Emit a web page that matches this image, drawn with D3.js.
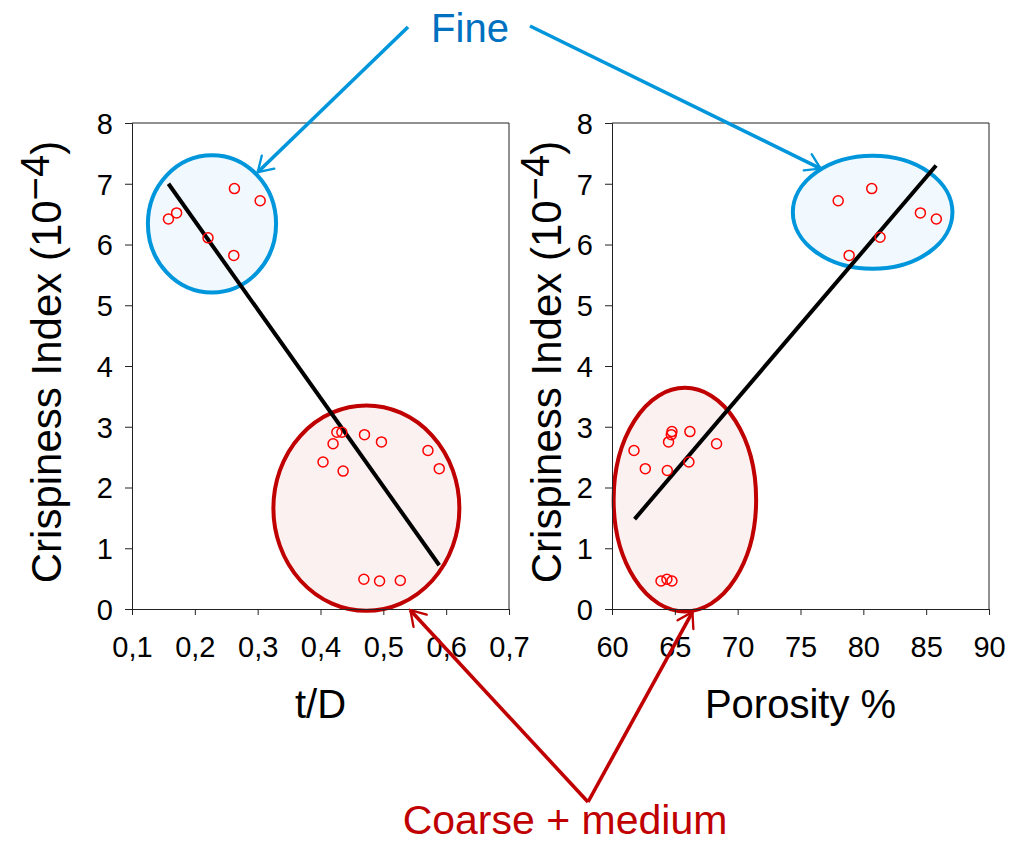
<!DOCTYPE html>
<html>
<head>
<meta charset="utf-8">
<script src="https://cdn.jsdelivr.net/npm/d3@7"></script>
<style>
  body { margin: 0; background: #fff; }
  text { font-family: "Liberation Sans", Arial, sans-serif; }
</style>
</head>
<body>
<div id="chart"></div>
<script>
// t/D vs crispiness (fine, coarse + medium)
const tdFine = [[0.158, 6.42], [0.171, 6.52], [0.263, 6.92], [0.304, 6.72], [0.221, 6.11], [0.262, 5.82]];
const tdCoarse = [[0.426, 2.91], [0.434, 2.91], [0.420, 2.72], [0.404, 2.42], [0.436, 2.27], [0.470, 2.87],
  [0.497, 2.75], [0.571, 2.61], [0.589, 2.31], [0.469, 0.49], [0.494, 0.46], [0.527, 0.47]];
const tdTrend = [[0.158, 7.0], [0.589, 0.72]];

// porosity vs crispiness
const porFine = [[78.0, 6.72], [80.67, 6.92], [84.54, 6.52], [85.81, 6.42], [81.33, 6.12], [78.87, 5.82]];
const porCoarse = [[61.75, 2.61], [62.65, 2.31], [64.40, 2.28], [64.50, 2.75], [64.72, 2.87], [64.77, 2.92],
  [66.2, 2.92], [66.12, 2.42], [68.32, 2.72], [63.9, 0.46], [64.37, 0.49], [64.77, 0.46]];
const porTrend = [[61.8, 1.48], [85.79, 7.3]];

// group ellipses in data units: [cx, cy, rx, ry]
const tdGroups = { fine: [0.2273, 6.34, 0.102, 1.13], coarse: [0.473, 1.66, 0.148, 1.69] };
const porGroups = { fine: [80.74, 6.53, 6.35, 0.93], coarse: [65.8, 1.80, 5.67, 1.84] };

const tdTicks = [0.1, 0.2, 0.3, 0.4, 0.5, 0.6, 0.7];
const porTicks = [60, 65, 70, 75, 80, 85, 90];
const yTicks = [0, 1, 2, 3, 4, 5, 6, 7, 8];

const width = 1022, height = 844;
const blue = "#0096DC", blueText = "#0070C0", red = "#C00000";

const svg = d3.select("#chart").append("svg")
  .attr("width", width).attr("height", height);

const defs = svg.append("defs");
[["arrBlue", blue], ["arrRed", red]].forEach(([id, c]) => {
  defs.append("marker")
    .attr("id", id).attr("viewBox", "-10 -6 12 12")
    .attr("refX", 0).attr("refY", 0)
    .attr("markerWidth", 6).attr("markerHeight", 6)
    .attr("markerUnits", "strokeWidth")
    .attr("orient", "auto")
    .append("path")
    .attr("d", "M-8,-5 L0,0 L-8,5")
    .attr("fill", "none").attr("stroke", c).attr("stroke-width", 1.3)
    .attr("stroke-linecap", "round");
});

const y = d3.scaleLinear().domain([0, 8]).range([609, 123]);

function panel(x, ticks, fmt, fine, coarse, trend, groups, xTitle, labelX) {
  const g = svg.append("g");
  const [x0, x1] = x.range();

  // ellipses
  [[groups.fine, blue, "#F2F9FE"], [groups.coarse, red, "#FBF1F1"]].forEach(([e, c, f]) => {
    g.append("ellipse")
      .attr("cx", x(e[0])).attr("cy", y(e[1]))
      .attr("rx", x(e[0] + e[2]) - x(e[0])).attr("ry", y(0) - y(e[3]))
      .attr("fill", f).attr("stroke", c).attr("stroke-width", 4);
  });

  // frame
  g.append("path")
    .attr("d", `M${x0},${y(8)}H${x1}V${y(0)}`)
    .attr("fill", "none").attr("stroke", "#222").attr("stroke-width", 1);

  const xAxis = g.append("g").attr("transform", `translate(0,${y(0)})`)
    .call(d3.axisBottom(x).tickValues(ticks).tickFormat(fmt).tickSize(6).tickPadding(21));
  const yAxis = g.append("g").attr("transform", `translate(${x0},0)`)
    .call(d3.axisLeft(y).tickValues(yTicks).tickSize(7).tickPadding(12));
  [xAxis, yAxis].forEach(a => {
    a.selectAll("path, line").attr("stroke", "#222");
    a.selectAll("text").attr("font-size", 29).attr("fill", "#000")
      .style("font-family", "'Liberation Sans', Arial, sans-serif");
  });
  yAxis.selectAll("text").attr("dy", "0.36em");

  // trend line
  g.append("line")
    .attr("x1", x(trend[0][0])).attr("y1", y(trend[0][1]))
    .attr("x2", x(trend[1][0])).attr("y2", y(trend[1][1]))
    .attr("stroke", "#000").attr("stroke-width", 4);

  // points
  g.selectAll("circle.pt").data(fine.concat(coarse)).enter().append("circle")
    .attr("class", "pt")
    .attr("cx", d => x(d[0])).attr("cy", d => y(d[1]))
    .attr("r", 5).attr("fill", "none").attr("stroke", "#FF0000").attr("stroke-width", 1.5);

  // titles
  g.append("text").attr("x", (x0 + x1) / 2).attr("y", 718)
    .attr("text-anchor", "middle").attr("font-size", 40).text(xTitle);

  const yt = g.append("text")
    .attr("transform", `translate(${labelX},362) rotate(-90)`)
    .attr("text-anchor", "middle").attr("font-size", 42);
  yt.append("tspan").text("Crispiness Index (10");
  yt.append("tspan").attr("dy", -12).attr("font-size", 40).text("\u22124");
  yt.append("tspan").attr("dy", 12).text(")");
}

const xTd = d3.scaleLinear().domain([0.1, 0.7]).range([132, 509]);
const xPor = d3.scaleLinear().domain([60, 90]).range([612, 989]);

panel(xTd, tdTicks, d => d3.format(".1f")(d).replace(".", ","), tdFine, tdCoarse, tdTrend, tdGroups, "t/D", 61);
panel(xPor, porTicks, d3.format("d"), porFine, porCoarse, porTrend, porGroups, "Porosity %", 561);

// annotations
function arrow(x1, y1, x2, y2, c, id) {
  svg.append("line")
    .attr("x1", x1).attr("y1", y1).attr("x2", x2).attr("y2", y2)
    .attr("stroke", c).attr("stroke-width", 3.6)
    .attr("marker-end", `url(#${id})`);
}

svg.append("text").attr("x", 470).attr("y", 42).attr("text-anchor", "middle")
  .attr("font-size", 40).attr("fill", blueText).text("Fine");
arrow(408, 27, xTd(0.30), y(7.19), blue, "arrBlue");
arrow(530, 26, xPor(76.6), y(7.25), blue, "arrBlue");

svg.append("text").attr("x", 565).attr("y", 834).attr("text-anchor", "middle")
  .attr("font-size", 41).attr("fill", red).text("Coarse + medium");
arrow(588, 802, xTd(0.543), y(-0.02), red, "arrRed");
arrow(588, 802, xPor(66.4), y(-0.05), red, "arrRed");
</script>
</body>
</html>
